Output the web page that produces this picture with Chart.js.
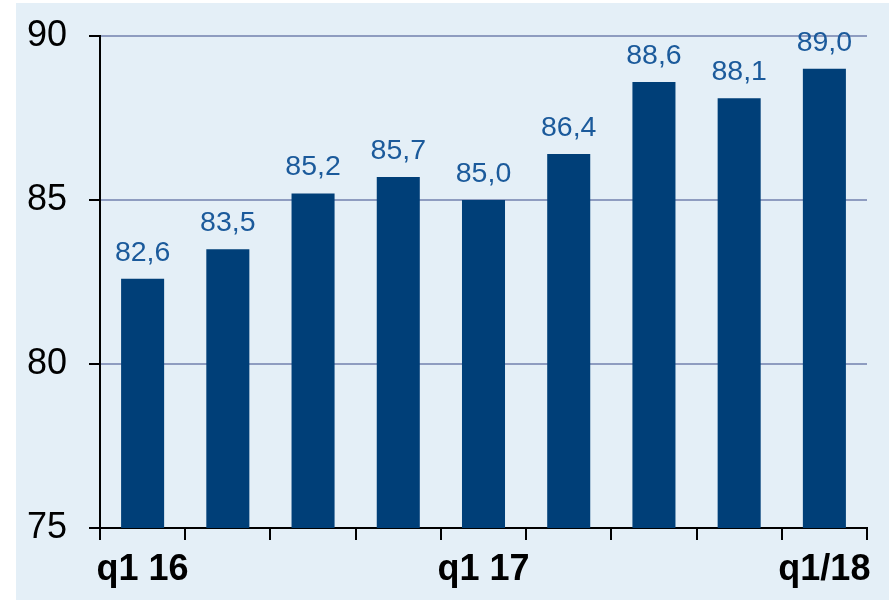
<!DOCTYPE html>
<html><head><meta charset="utf-8">
<script src="https://cdn.jsdelivr.net/npm/chart.js@4/dist/chart.umd.min.js"></script>
<style>html,body{margin:0;padding:0;background:#fff;}#wrap{width:889px;height:601px;position:relative;}</style>
</head><body>
<div id="wrap"><canvas id="c" width="889" height="601"></canvas></div>
<script>
const categories = ["q1 16","q2 16","q3 16","q4 16","q1 17","q2 17","q3 17","q4 17","q1/18"];
const tickLabels = ["q1 16","","","","q1 17","","","","q1/18"];
const values = [82.6, 83.5, 85.2, 85.7, 85.0, 86.4, 88.6, 88.1, 89.0];
const yTicks = [75, 80, 85, 90];

const bgPlugin = {
  id: 'bg',
  beforeDraw(chart) {
    const ctx = chart.ctx;
    ctx.save();
    ctx.fillStyle = '#e4eff7';
    ctx.fillRect(16, 3, chart.width - 16, chart.height - 4);
    ctx.restore();
  }
};
const labelPlugin = {
  id: 'vals',
  afterDatasetsDraw(chart) {
    const ctx = chart.ctx;
    const meta = chart.getDatasetMeta(0);
    ctx.save();
    ctx.font = '28.5px "Liberation Sans", Arial, sans-serif';
    ctx.fillStyle = '#1b5a9b';
    ctx.textAlign = 'center';
    ctx.textBaseline = 'alphabetic';
    meta.data.forEach((bar, i) => {
      ctx.fillText(values[i].toFixed(1).replace('.', ','), bar.x, bar.y - 18);
    });
    ctx.restore();
  }
};

new Chart(document.getElementById('c'), {
  type: 'bar',
  data: { labels: categories, datasets: [{ data: values, backgroundColor: '#003f78', borderWidth: 0, barPercentage: 0.505, categoryPercentage: 1 }] },
  options: {
    responsive: false, animation: false,
    layout: { padding: { top: 36, right: 22, left: 0, bottom: 0 } },
    plugins: { legend: { display: false }, tooltip: { enabled: false } },
    scales: {
      x: {
        grid: { offset: true, drawOnChartArea: false, drawTicks: true, tickLength: 12, color: '#000', tickColor: '#000', lineWidth: 2 },
        border: { color: '#000', width: 2 },
        ticks: { autoSkip: false, maxRotation: 0, padding: 8, color: '#000', font: { family: '"Liberation Sans", Arial, sans-serif', size: 36, weight: 'bold' }, callback: (v, i) => tickLabels[i] },
        afterFit(s) { s.height = 73; s.paddingLeft = 0; s.paddingRight = 0; }
      },
      y: {
        min: 75, max: 90,
        afterBuildTicks(s) { s.ticks = yTicks.map(v => ({ value: v })); },
        grid: { color: (c) => c.tick && c.tick.value === 75 ? 'rgba(0,0,0,0)' : '#8e9cc0', lineWidth: 2, tickLength: 11, tickColor: '#000' },
        border: { color: '#000', width: 2 },
        ticks: { padding: 22, color: '#000', font: { family: '"Liberation Sans", Arial, sans-serif', size: 36 } },
        afterFit(s) { s.width = 100; s.paddingTop = 0; s.paddingBottom = 0; }
      }
    }
  },
  plugins: [bgPlugin, labelPlugin]
});
</script>
</body></html>
